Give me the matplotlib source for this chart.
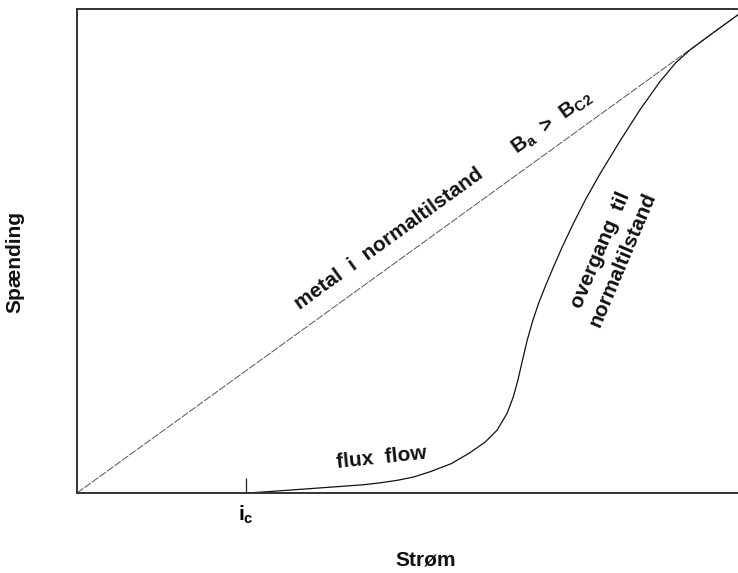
import matplotlib
matplotlib.use("Agg")
import matplotlib.pyplot as plt

# data (axes run 0..1 in both directions)
ic = 0.253
normal_x = [0.0, 1.0]
normal_y = [0.0, 1.0]
flux_x = [0.253, 0.278, 0.328, 0.378, 0.428, 0.453, 0.478, 0.503, 0.528, 0.560,
          0.587, 0.610, 0.628, 0.643, 0.652, 0.659, 0.665, 0.673, 0.681, 0.690,
          0.700, 0.7125, 0.7265, 0.742, 0.760, 0.782, 0.812, 0.8416, 0.8714,
          0.895, 0.916, 0.950, 1.000]
flux_y = [0.000, 0.002, 0.007, 0.012, 0.017, 0.021, 0.026, 0.033, 0.044, 0.061,
          0.083, 0.105, 0.130, 0.165, 0.198, 0.233, 0.269, 0.316, 0.355, 0.392,
          0.427, 0.468, 0.512, 0.557, 0.606, 0.660, 0.728, 0.792, 0.850,
          0.889, 0.915, 0.950, 1.000]

plt.rcParams['font.family'] = ['Liberation Sans', 'DejaVu Sans']
plt.rcParams['mathtext.fontset'] = 'custom'
plt.rcParams['mathtext.rm'] = 'Liberation Sans:bold'
plt.rcParams['mathtext.it'] = 'Liberation Sans:bold'

W, H = 738, 573
fig = plt.figure(figsize=(W / 100, H / 100), dpi=100)
# right edge of the axes lies just outside the picture
ax = fig.add_axes([77 / W, 80 / H, 669 / W, 484 / H])
ax.set_xlim(0, 1)
ax.set_ylim(0, 1)

ax.plot(normal_x, normal_y, color='#555555', lw=0.7, ls=(0, (8, 1.5)))
ax.plot(flux_x, flux_y, color='#111111', lw=0.9)

for s in ['left', 'top', 'bottom']:
    ax.spines[s].set_color('#333333')
    ax.spines[s].set_linewidth(1.4)
ax.spines['right'].set_visible(False)

ax.set_yticks([])
ax.set_xticks([ic])
ax.set_xticklabels([r'$\mathrm{i_c}$'], fontsize=15)
ax.tick_params(axis='x', direction='in', length=11, width=0.9, color='#222222', pad=8)

txt = dict(fontsize=15, fontweight='bold', color='#111111', rotation_mode='anchor')
ax.text(0.471, 0.516, 'metal  i  normaltilstand', rotation=35.9,
        ha='center', va='baseline', **txt)
ax.text(0.7145, 0.757, r'$\mathrm{B_a}$  >  $\mathrm{B_{C2}}$', rotation=35.9,
        ha='center', va='baseline', **txt)
ax.text(0.799, 0.492, 'overgang  til\nnormaltilstand', rotation=67,
        ha='center', va='center', multialignment='center', linespacing=1.3, **txt)
ax.text(0.456, 0.062, 'flux  flow', rotation=6, ha='center', va='baseline', **txt)

fig.text(426 / W, 1 - 560 / H, 'Strøm', ha='center', va='center',
         fontsize=15, fontweight='bold', color='#111111')
fig.text(15 / W, 1 - 262 / H, 'Spænding', ha='center', va='center', rotation=90,
         fontsize=15, fontweight='bold', color='#111111')

fig.savefig('out.png', dpi=100)
